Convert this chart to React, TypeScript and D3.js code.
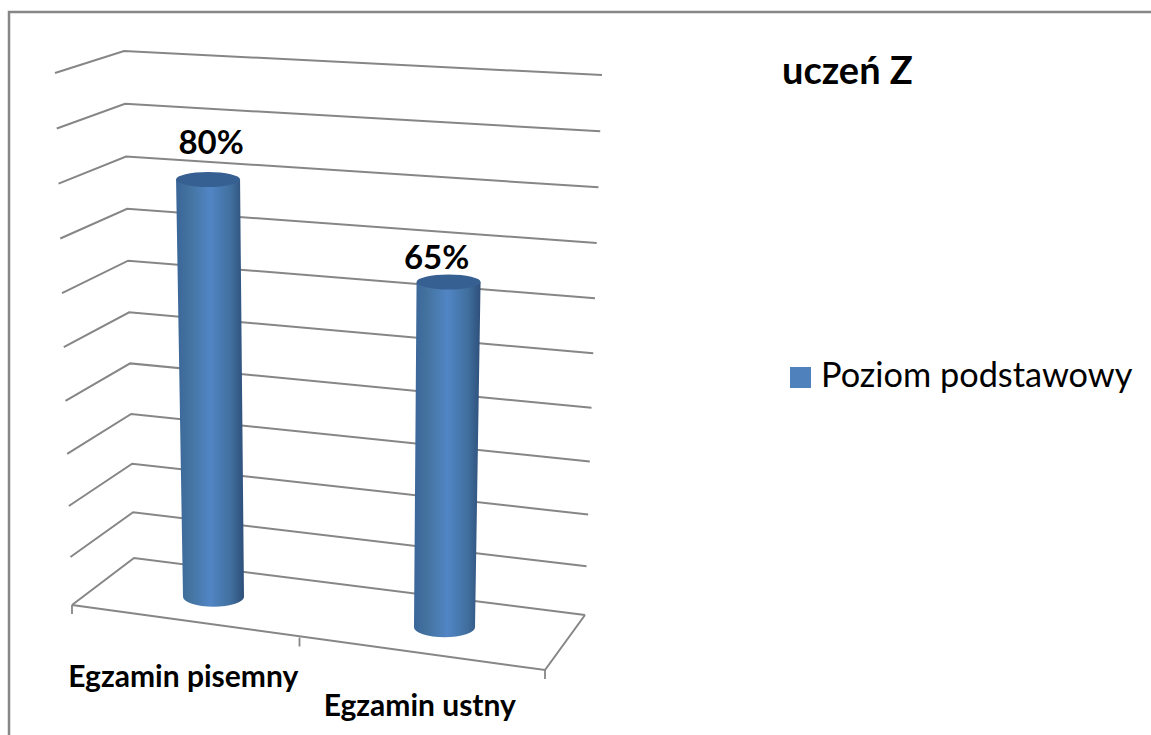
import * as d3 from "d3"

const categories = ["Egzamin pisemny", "Egzamin ustny"]
const seriesName = "Poziom podstawowy"
const values = [80, 65]
const valueLabels = ["80%", "65%"]
const levels = [0, 10, 20, 30, 40, 50, 60, 70, 80, 90, 100]
const title = "uczeń Z"

const W = 1151
const H = 735
const FONT = "Lato, Carlito, Calibri, sans-serif"
const GRID = "#868686"

// corners of the 3D box, floor and ceiling
const floor = { fl: [72, 605], fr: [545, 670], bl: [134, 558], br: [585, 615] }
const ceil = { fl: [55, 73], fr: [554, 112], bl: [124, 51], br: [602, 75] }

const t = d3.scalePow().exponent(1.045).domain([0, 100]).range([0, 1])
const u = d3.scaleBand().domain(categories).range([0, 1])

const mix = (a: number, b: number, k: number) => a + (b - a) * k

// u: along the category axis, d: depth, v: value
function project(uu: number, d: number, v: number) {
  const corner = (c: typeof floor, i: number) =>
    mix(mix(c.fl[i], c.fr[i], uu), mix(c.bl[i], c.br[i], uu), d)
  const k = t(v)
  return [mix(corner(floor, 0), corner(ceil, 0), k), mix(corner(floor, 1), corner(ceil, 1), k)]
}

const line = d3.line()

// hand placed offsets, the labels were moved by hand in the original
const labelOffset = [
  [3, -25],
  [-12, -13],
]
const categoryDy = [66, 62]
const barShift = -5

function barPath(cat: string, v: number) {
  const uc = u(cat)! + u.bandwidth() / 2
  const base = project(uc, 0.5, 0)
  const top = project(uc, 0.5, v)
  base[0] += barShift
  top[0] += barShift
  const rb = 30.5
  const rt = 32
  const ryb = 10
  const ryt = 7.5
  return {
    top,
    rt,
    ryt,
    d: `M${top[0] - rt},${top[1]} L${base[0] - rb},${base[1]} A${rb},${ryb} 0 0 0 ${base[0] + rb},${base[1]} L${top[0] + rt},${top[1]} Z`,
  }
}

export default function App() {
  const ticksU = [0, 0.5, 1]
  return (
    <svg
      width={W}
      height={H}
      style={{ position: "absolute", left: 0, top: 0, background: "#fff" }}
      fontFamily={FONT}
    >
      <defs>
        <linearGradient id="cyl" x1="0" x2="1" y1="0" y2="0">
          <stop offset="0" stopColor="#3a6699" />
          <stop offset="0.2" stopColor="#44739f" />
          <stop offset="0.5" stopColor="#5185c5" />
          <stop offset="0.8" stopColor="#41709f" />
          <stop offset="1" stopColor="#2e4f7a" />
        </linearGradient>
      </defs>

      <path d={`M${W},12 L9,12 L9,${H}`} fill="none" stroke={GRID} strokeWidth={2.5} />

      {levels.map((lv) => (
        <path
          key={lv}
          d={line([project(0, 0, lv), project(0, 1, lv), project(1, 1, lv)] as [number, number][])!}
          fill="none"
          stroke={GRID}
          strokeWidth={2}
        />
      ))}

      {/* floor front and right edge */}
      <path
        d={line([project(0, 0, 0), project(1, 0, 0), project(1, 1, 0)] as [number, number][])!}
        fill="none"
        stroke={GRID}
        strokeWidth={2}
      />
      {ticksU.map((tu) => {
        const p = project(tu, 0, 0)
        const x = tu === 0.5 ? p[0] - 9 : p[0]
        return <line key={tu} x1={x} x2={x} y1={p[1]} y2={p[1] + 9} stroke={GRID} strokeWidth={1.8} />
      })}

      {categories.map((c, i) => {
        const b = barPath(c, values[i])
        return (
          <g key={c}>
            <path d={b.d} fill="url(#cyl)" />
            <ellipse cx={b.top[0]} cy={b.top[1]} rx={b.rt} ry={b.ryt} fill="#376092" />
            <text
              x={b.top[0] + labelOffset[i][0]}
              y={b.top[1] + labelOffset[i][1]}
              textAnchor="middle"
              fontWeight={700}
              fontSize={33}
              fill="#000"
            >
              {valueLabels[i]}
            </text>
          </g>
        )
      })}

      {categories.map((c, i) => {
        const p = project(u(c)! + u.bandwidth() / 2, 0, 0)
        return (
          <text
            key={c}
            x={p[0] - 7}
            y={p[1] + categoryDy[i]}
            textAnchor="middle"
            fontWeight={700}
            fontSize={30}
            fill="#000"
          >
            {c}
          </text>
        )
      })}

      <text x={782} y={84} fontWeight={700} fontSize={38} fill="#000">
        {title}
      </text>

      <rect x={790} y={367} width={21} height={21} fill="#4f81bd" />
      <text x={821} y={387} fontSize={34.3} fill="#000">
        {seriesName}
      </text>
    </svg>
  )
}
